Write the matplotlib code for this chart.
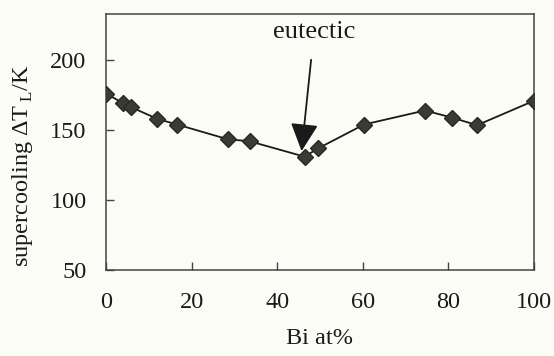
import matplotlib
matplotlib.use("Agg")
import matplotlib.pyplot as plt

# Bi content (at%) and supercooling (K)
bi_at = [0, 3.9, 5.8, 12.0, 16.6, 28.4, 33.6, 46.4, 49.6, 60.3, 74.5, 80.8, 86.7, 100]
dT_L = [176, 169.5, 166.5, 158, 154, 143.5, 142, 131, 137, 154, 164, 159, 153.5, 171]

x_ticks = [0, 20, 40, 60, 80, 100]
y_ticks = [50, 100, 150, 200]

plt.rcParams['font.family'] = ['Liberation Serif', 'DejaVu Serif']
plt.rcParams['mathtext.fontset'] = 'custom'
plt.rcParams['mathtext.rm'] = 'Liberation Serif'

bg = '#fcfcf7'
fig = plt.figure(figsize=(5.54, 3.56), dpi=100, facecolor=bg)
ax = fig.add_axes([0.1913, 0.2416, 0.7726, 0.7191], facecolor=bg)

ax.plot(bi_at, dT_L, color='#1a1a1a', lw=1.3, marker='D', markersize=8.5,
        markerfacecolor='#3b3b33', markeredgecolor='#2a2a24', zorder=3)

ax.set_xlim(0, 100)
ax.set_ylim(50, 233)
ax.set_xticks(x_ticks)
ax.set_yticks(y_ticks)
ax.tick_params(axis='both', direction='in', length=6, width=1, colors='#444444',
               labelcolor='#1a1a1a', labelsize=17.5)
ax.tick_params(axis='x', pad=16)
ax.tick_params(axis='y', pad=14)
for s in ax.spines.values():
    s.set_color('#444444')
    s.set_linewidth(1.1)

ax.set_xlabel('Bi at%', fontsize=17.5, color='#1a1a1a')
ax.xaxis.set_label_coords(0.5, -0.228)
ax.set_ylabel(r'supercooling ΔT$\,_{\mathrm{L}}$/K', fontsize=17.5, color='#1a1a1a')
ax.yaxis.set_label_coords(-0.165, 0.41)

ax.annotate('eutectic', xy=(45.7, 135), xytext=(48.6, 220),
            ha='center', va='center', fontsize=19, color='#1a1a1a',
            arrowprops=dict(arrowstyle='-|>,head_length=0.9,head_width=0.45',
                            color='#1a1a1a', lw=1.3, shrinkA=10, shrinkB=0))

fig.savefig('out.png', dpi=100, facecolor=bg)
